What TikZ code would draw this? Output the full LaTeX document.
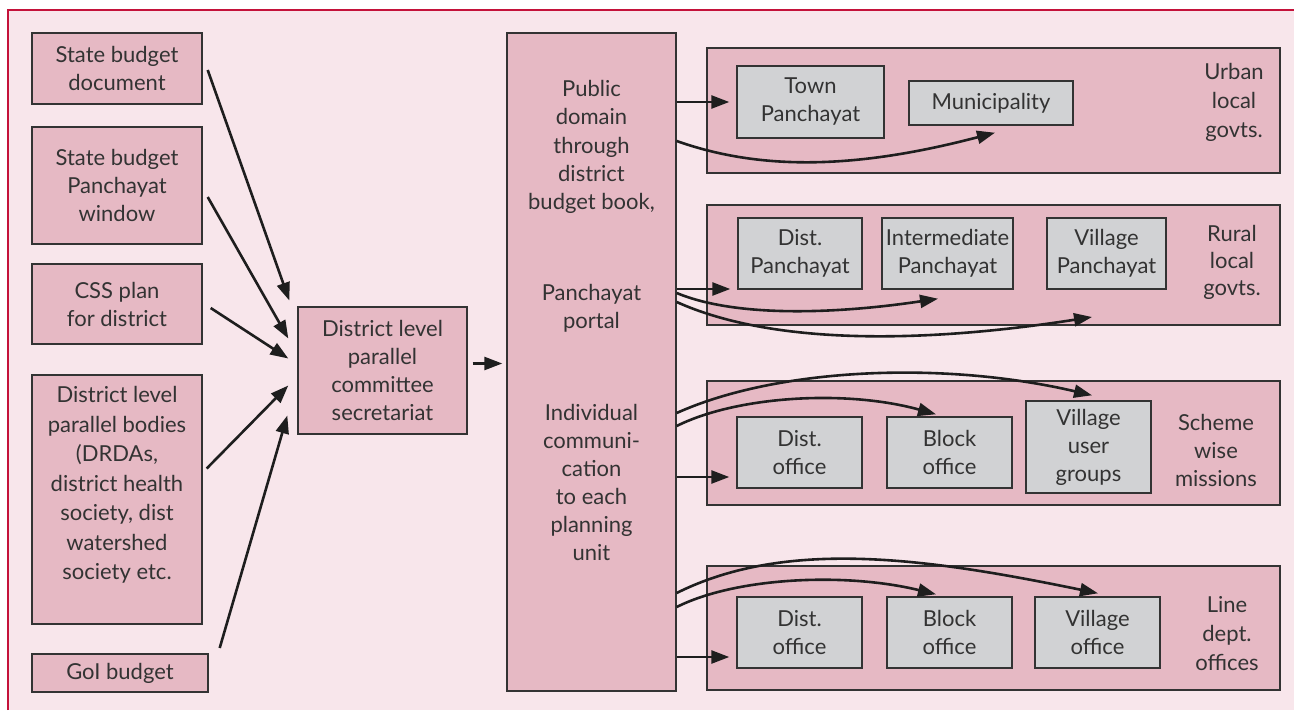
\documentclass[tikz,border=0pt]{standalone}
\usepackage{fontspec}
\setmainfont{Lato}
\usepackage{tikz}
\usetikzlibrary{arrows.meta,calc}
\definecolor{pagepink}{HTML}{F8E6EB}
\definecolor{boxpink}{HTML}{E6B9C4}
\definecolor{boxgray}{HTML}{D1D2D4}
\definecolor{framered}{HTML}{C4123A}
\definecolor{inkgray}{HTML}{333333}
\definecolor{arrowink}{HTML}{1E1E1E}

\begin{document}
\begin{tikzpicture}[x=1pt,y=-1pt,
    every node/.style={font=\fontsize{22}{28}\selectfont, text=inkgray,
      align=center, inner sep=0pt},
    pinkbox/.style={draw=inkgray, line width=1.4pt, fill=boxpink},
    graybox/.style={draw=inkgray, line width=1.4pt, fill=boxgray},
    panel/.style={pinkbox, minimum width=573pt},
    flow/.style={draw=arrowink, line width=2.6pt,
      -{Triangle[length=18pt,width=13pt]}}
  ]
  \useasboundingbox (0,0) rectangle (1294,710);
  \fill[white] (0,0) rectangle (1294,710);
  \fill[pagepink] (8,10) rectangle (1294,710);
  \draw[framered, line width=1.3pt] (8,710) -- (8,10) -- (1294,10);

  % sources
  \node[pinkbox, minimum width=170pt, minimum height=71pt] (sbdoc) at (117,68.5)
    {State budget\\document};
  \node[pinkbox, minimum width=170pt, minimum height=117pt] (sbwin) at (117,185.5)
    {State budget\\Panchayat\\window};
  \node[pinkbox, minimum width=170pt, minimum height=80pt] (css) at (117,304)
    {CSS plan\\for district};
  \node[pinkbox, minimum width=170pt, minimum height=249pt] (bodies) at (117,499.5) {};
  \node[font=\fontsize{22}{29.5}\selectfont] (bodiestext) at (117,485)
    {District level\\parallel bodies\\(DRDAs,\\district health\\society, dist\\watershed\\society etc.};
  \node[pinkbox, minimum width=176pt, minimum height=38pt] (goi) at (120,673)
    {GoI budget};

  \node[pinkbox, minimum width=169pt, minimum height=127pt] (committee) at (382.5,370.5)
    {District level\\parallel\\committee\\secretariat};

  \node[pinkbox, minimum width=169pt, minimum height=658pt] (portal) at (591.5,362) {};
  \node[font=\fontsize{22}{28.3}\selectfont] (pubtext) at (591.5,147)
    {Public\\domain\\through\\district\\budget book,};
  \node (portaltext) at (591.5,308) {Panchayat\\portal};
  \node (indtext) at (591.5,482)
    {Individual\\communi-\\cation\\to each\\planning\\unit};

  % planning units
  \node[panel, minimum height=125pt] (urban) at (993.5,110.5) {};
  \node[panel, minimum height=120pt] (rural) at (993.5,265) {};
  \node[panel, minimum height=124pt] (scheme) at (993.5,443) {};
  \node[panel, minimum height=124pt] (line) at (993.5,628) {};

  \node[font=\fontsize{22}{29}\selectfont] (urbanlbl) at (1234,102) {Urban\\local\\govts.};
  \node[font=\fontsize{22}{27}\selectfont] (rurallbl) at (1232,262) {Rural\\local\\govts.};
  \node (schemelbl) at (1216,450) {Scheme\\wise\\missions};
  \node[font=\fontsize{22}{29}\selectfont] (linelbl) at (1227,634) {Line\\dept.\\offices};

  \node[graybox, minimum width=147pt, minimum height=72pt] (town) at (810.5,102) {Town\\Panchayat};
  \node[graybox, minimum width=164pt, minimum height=44pt] (muni) at (991,103) {Municipality};

  \node[graybox, minimum width=124pt, minimum height=71pt] (dp) at (800,253.5) {Dist.\\Panchayat};
  \node[graybox, minimum width=131pt, minimum height=71pt] (ip) at (947.5,253.5) {Intermediate\\Panchayat};
  \node[graybox, minimum width=119pt, minimum height=71pt] (vp) at (1106.5,253.5) {Village\\Panchayat};

  \node[graybox, minimum width=125pt, minimum height=71pt] (sdist) at (799.5,452.5) {Dist.\\office};
  \node[graybox, minimum width=125pt, minimum height=71pt] (sblock) at (949.5,452.5) {Block\\office};
  \node[graybox, minimum width=125pt, minimum height=92pt] (svug) at (1088.5,447) {Village\\user\\groups};

  \node[graybox, minimum width=125pt, minimum height=71pt] (ldist) at (799.5,632.5) {Dist.\\office};
  \node[graybox, minimum width=125pt, minimum height=71pt] (lblock) at (949.5,632.5) {Block\\office};
  \node[graybox, minimum width=125pt, minimum height=71pt] (lvill) at (1097.5,632.5) {Village\\office};

  % into the committee
  \draw[flow] ($(sbdoc.east)+(5,1.5)$) -- ($(committee.west)+(-8,-70)$);
  \draw[flow] ($(sbwin.east)+(5,11.5)$) -- ($(committee.west)+(-9,-32)$);
  \draw[flow] ($(css.east)+(8,4)$) -- ($(committee.west)+(-9,-12)$);
  \draw[flow] ($(bodies.east)+(4,-31)$) -- ($(committee.west)+(-9,15)$);
  \draw[flow] ($(goi.east)+(11,-25)$) -- ($(committee.west)+(-10,45)$);
  \coordinate (c0) at ($(committee.east)+(5,-7)$);
  \draw[flow, shorten >=4pt] (c0) -- (c0 -| portal.west);

  % out of the portal
  \coordinate (u0) at (portal.east |- town.west);
  \coordinate (u1) at ($(portal.east)+(0,-221)$);
  \draw[flow, shorten >=7pt] (u0) -- (u0 -| town.west);
  \draw[flow] (u1) .. controls +(90,32) and +(-130,34) .. ($(muni.south)+(4,7)$);

  \coordinate (r0) at ($(portal.east)+(0,-73)$);
  \coordinate (r1) at ($(portal.east)+(0,-69)$);
  \coordinate (r2) at ($(portal.east)+(0,-60)$);
  \coordinate (vpin) at (1092,317);
  \draw[flow, shorten >=7pt] (r0) -- (r0 -| dp.west);
  \draw[flow] (r1) .. controls +(60,25) and +(-100,15) .. ($(ip.south)+(-9.5,9)$);
  \draw[flow] (r2) .. controls +(100,45) and +(-160,25) .. (vpin);

  \coordinate (s0) at ($(portal.east)+(0,115)$);
  \coordinate (s1) at ($(portal.east)+(0,64)$);
  \coordinate (s2) at ($(portal.east)+(0,51)$);
  \draw[flow, shorten >=7pt] (s0) -- (s0 -| sdist.west);
  \draw[flow] (s1) .. controls +(60,-30) and +(-90,-25) .. ($(sblock.north)+(-13.5,-2)$);
  \draw[flow] (s2) .. controls +(100,-45) and +(-150,-35) .. ($(svug.north)+(3.5,-5)$);

  \coordinate (l0) at ($(portal.east)+(0,295)$);
  \coordinate (l1) at ($(portal.east)+(0,245)$);
  \coordinate (l2) at ($(portal.east)+(0,231)$);
  \draw[flow, shorten >=7pt] (l0) -- (l0 -| ldist.west);
  \draw[flow] (l1) .. controls +(60,-30) and +(-90,-22) .. ($(lblock.north)+(-13.5,-2)$);
  \draw[flow] (l2) .. controls +(110,-55) and +(-170,-35) .. ($(lvill.north)+(0.5,-3)$);
\end{tikzpicture}
\end{document}
